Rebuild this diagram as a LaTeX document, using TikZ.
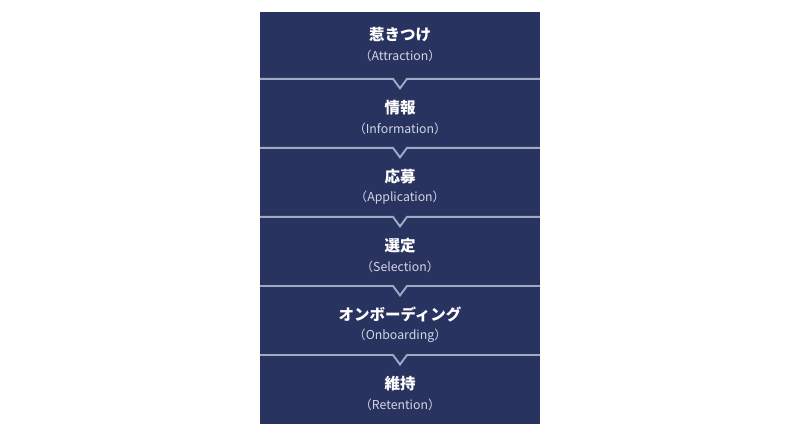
\documentclass[tikz,border=0pt]{standalone}
\usepackage{fontspec}
\newfontfamily\jpfont{Noto Sans CJK JP}
\definecolor{navy}{HTML}{283360}
\definecolor{sepline}{HTML}{A0AAC4}
\definecolor{subtext}{HTML}{D2D6E4}
\tikzset{
  column/.style={fill=navy,minimum width=280pt,minimum height=412.3pt,inner sep=0pt},
  title/.style={text=white,font=\jpfont\bfseries\fontsize{15.5}{18}\selectfont,inner sep=0pt},
  subtitle/.style={text=subtext,font=\jpfont\fontsize{12.3}{14}\selectfont,inner sep=0pt},
  sep/.style={draw=sepline,line width=1.9pt,line join=miter}
}
\begin{document}
\begin{tikzpicture}[x=1pt,y=-1pt]
	\useasboundingbox (0,0) rectangle (800,436);
	\node[column] (col) at (400,218.15) {};
	% stage labels
	\foreach \jp/\en [count=\i] in {惹きつけ/Attraction,情報/Information,応募/Application,選定/Selection,オンボーディング/Onboarding,維持/Retention}{
		\pgfmathsetmacro{\c}{\i==1 ? 45.4 : 118.3+69.05*(\i-2)}
		\node[title] (t\i) at (400,\c-10.5) {\jp};
		\node[subtitle] (e\i) at (400,\c+10.5) {（\en）};
	}
	% separators with chevrons
	\foreach \i in {1,...,5}{
		\coordinate (m\i) at (400,{78.8+69.05*(\i-1)});
		\draw[sep] (col.west |- m\i) -- ([xshift=-7pt]m\i) -- ([yshift=-9.5pt]m\i) -- ([xshift=7pt]m\i) -- (col.east |- m\i);
	}
\end{tikzpicture}
\end{document}
